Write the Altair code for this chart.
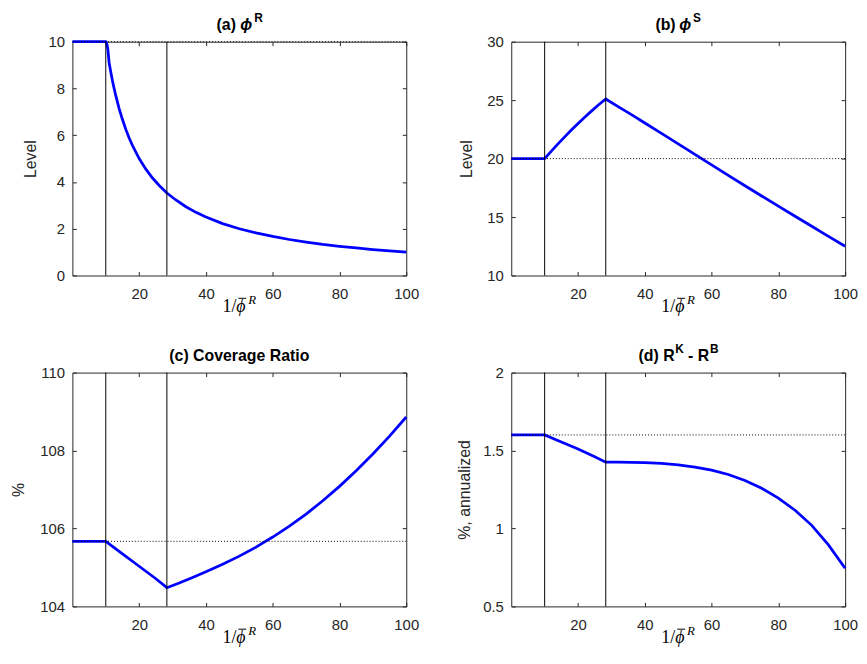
import altair as alt
import pandas as pd

# ---------------- data ----------------
X_TICKS = [20, 40, 60, 80, 100]
V_LINES = [10, 28.3]

A_X = [0, 10, 10.3, 10.6, 11, 11.5, 12, 12.5, 13, 14, 15, 16, 17, 18, 20, 22, 24, 26, 28.3,
       31, 34, 37, 40, 45, 50, 55, 60, 65, 70, 75, 80, 85, 90, 95, 100]
A_Y = [10, 10, 9.93, 9.7, 9.1, 8.7, 8.33, 8.0, 7.69, 7.14, 6.67, 6.25, 5.88, 5.56, 5.0, 4.55,
       4.17, 3.85, 3.53, 3.23, 2.94, 2.7, 2.5, 2.22, 2.0, 1.82, 1.67, 1.54, 1.43, 1.33, 1.25,
       1.18, 1.11, 1.05, 1.0]
A_REF = 10
A_TICKS = [0, 2, 4, 6, 8, 10]

B_X = [0, 10, 12, 14, 16, 18, 20, 22, 24, 26, 28.3, 32, 36, 40, 45, 50, 55, 60, 65, 70, 75,
       80, 85, 90, 95, 100]
B_Y = [20, 20, 20.64, 21.26, 21.86, 22.44, 23.0, 23.54, 24.06, 24.56, 25.1, 24.45, 23.76,
       23.05, 22.16, 21.26, 20.36, 19.46, 18.57, 17.68, 16.8, 15.93, 15.07, 14.21, 13.35, 12.5]
B_REF = 20
B_TICKS = [10, 15, 20, 25, 30]

C_X = [0, 10, 12, 15, 20, 25, 28.3, 32, 36, 40, 45, 50, 55, 60, 65, 70, 75, 80, 85, 90, 95, 100]
C_Y = [105.67, 105.67, 105.54, 105.35, 105.03, 104.71, 104.48, 104.6, 104.74, 104.89, 105.08,
       105.29, 105.52, 105.78, 106.06, 106.37, 106.71, 107.08, 107.48, 107.91, 108.37, 108.86]
C_REF = 105.67
C_TICKS = [104, 106, 108, 110]

D_X = [0, 10, 15, 20, 25, 28.3, 32, 36, 40, 45, 50, 55, 60, 65, 70, 75, 80, 85, 90, 95, 100]
D_Y = [1.6, 1.6, 1.555, 1.51, 1.46, 1.425, 1.425, 1.424, 1.422, 1.417, 1.408, 1.394, 1.374,
       1.346, 1.308, 1.258, 1.195, 1.117, 1.02, 0.895, 0.745]
D_REF = 1.6
D_TICKS = [0.5, 1, 1.5, 2]

TITLE_A = ["(a)", "ϕ", "R"]
TITLE_B = ["(b)", "ϕ", "S"]
TITLE_C = ["(c) Coverage Ratio"]
TITLE_D = ["(d) R", "K", "- R", "B"]
XLABEL = ["1/", "ϕ", "R"]
Y_TITLES = ["Level", "Level", "%", "%, annualized"]

# ---------------- styling ----------------
W, H = 337, 236
AX = "#262626"
FONT = "Liberation Sans"
SERIF = "Liberation Serif"


def txt(s, x, y, size, align="left", weight="bold", font=FONT, style="normal",
        baseline="alphabetic"):
    return alt.Chart(pd.DataFrame({"t": [s]})).mark_text(
        font=font, fontSize=size, fontWeight=weight, fontStyle=style,
        align=align, baseline=baseline, color="black"
    ).encode(x=alt.value(x), y=alt.value(y), text="t:N")


def sup(s, x, base_y, size):
    return txt(s, x, base_y - 0.79 * size, size, baseline="top")


def xlabel_layers():
    c = W / 2
    by = H + 41          # bottom of the text box (descenders)
    bar = alt.Chart(pd.DataFrame({"k": [0]})).mark_rule(color="black", strokeWidth=1).encode(
        x=alt.value(c - 1), x2=alt.value(c + 7), y=alt.value(by - 18))
    return [
        txt(XLABEL[0], c - 3, by, 18, align="right", weight="normal", font=SERIF,
            baseline="bottom"),
        txt(XLABEL[1], c - 3, by, 18, align="left", weight="normal", font=SERIF,
            style="italic", baseline="bottom"),
        txt(XLABEL[2], c + 9, by - 9, 13, align="left", weight="normal", font=SERIF,
            style="italic", baseline="bottom"),
        bar,
    ]


def panel(xv, yv, ref, ydom, yticks, ytitle, ytx, titles):
    df = pd.DataFrame({"x": xv, "y": yv})
    xsc = alt.Scale(domain=[0, 100], nice=False, zero=False)
    ysc = alt.Scale(domain=ydom, nice=False, zero=False)
    common = dict(grid=False, domain=False, tickSize=4, offset=-4, tickColor=AX,
                  tickWidth=1, labelColor=AX, labelFont=FONT, labelFontSize=15,
                  labelFlush=False, labelOverlap=False, labelBound=False)
    xb = alt.Axis(orient="bottom", values=X_TICKS, title=None, labelPadding=11, **common)
    yl = alt.Axis(orient="left", values=yticks, labelExpr="toString(datum.value)",
                  title=ytitle, labelPadding=8,
                  titleFont=FONT, titleFontSize=16, titleFontWeight="normal", titleColor=AX,
                  titleX=ytx - 4, titleY=H / 2, titleAngle=-90, titleBaseline="middle",
                  titleAlign="center", **common)
    xt = alt.Axis(orient="top", values=X_TICKS, title=None, labels=False, **common)
    yr = alt.Axis(orient="right", values=yticks, title=None, labels=False, **common)

    line = alt.Chart(df).mark_line(color="#0000FF", strokeWidth=2.8).encode(
        x=alt.X("x:Q", scale=xsc, axis=xb), y=alt.Y("y:Q", scale=ysc, axis=yl))
    vl = alt.Chart(pd.DataFrame({"x": V_LINES})).mark_rule(color="black", strokeWidth=1).encode(
        x=alt.X("x:Q", scale=xsc, axis=xt))
    hl = alt.Chart(pd.DataFrame({"y": [ref]})).mark_rule(
        color="black", strokeWidth=1, strokeDash=[1, 2]).encode(
        y=alt.Y("y:Q", scale=ysc, axis=yr))
    anchor = alt.Chart(pd.DataFrame({"k": [0]})).mark_rule(strokeOpacity=0, strokeWidth=1).encode(
        x=alt.value(0), x2=alt.value(1), y=alt.value(-30))
    layers = [line, vl, hl, anchor] + titles + xlabel_layers()
    return alt.layer(*layers).resolve_axis(x="independent", y="independent").properties(
        width=W, height=H)


c = W / 2


def phi_title(parts):
    return [txt(parts[0], c - 23, -12, 16, align="left"),
            txt(parts[1], c + 1, -12, 16, align="left", style="italic"),
            sup(parts[2], c + 15, -19, 12)]


ta = phi_title(TITLE_A)
tb = phi_title(TITLE_B)
tc = [txt(TITLE_C[0], c, -12, 16, align="center")]
s = c - 40
td = [txt(TITLE_D[0], s, -12, 16), sup(TITLE_D[1], s + 37, -19, 12),
      txt(TITLE_D[2], s + 50, -12, 16), sup(TITLE_D[3], s + 72, -19, 12)]

pa = panel(A_X, A_Y, A_REF, [0, 10], A_TICKS, Y_TITLES[0], -42, ta)
pb = panel(B_X, B_Y, B_REF, [10, 30], B_TICKS, Y_TITLES[1], -45, tb)
pc = panel(C_X, C_Y, C_REF, [104, 110], C_TICKS, Y_TITLES[2], -54, tc)
pd_ = panel(D_X, D_Y, D_REF, [0.5, 2], D_TICKS, Y_TITLES[3], -47, td)

chart = alt.concat(pa, pb, pc, pd_, columns=2, spacing={"row": 98, "column": 106},
                   bounds="flush").properties(
    padding={"left": 2, "top": 0, "right": 0, "bottom": 0}, background="white"
).configure_view(stroke=AX, strokeWidth=1)

chart.save("out.html", embed_options={"renderer": "svg", "actions": False})
